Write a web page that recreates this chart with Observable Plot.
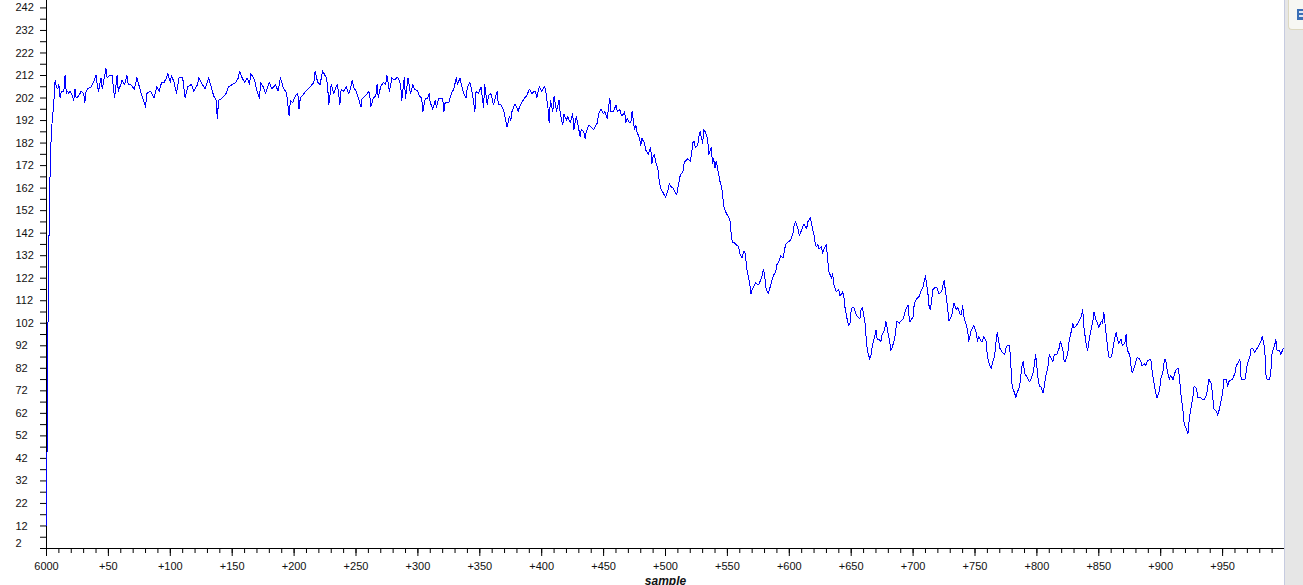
<!DOCTYPE html>
<html>
<head>
<meta charset="utf-8">
<script src="https://cdn.jsdelivr.net/npm/d3@7"></script>
<script src="https://cdn.jsdelivr.net/npm/@observablehq/plot@0.6"></script>
<style>
  html, body { margin: 0; padding: 0; background: #fff; overflow: hidden; }
  #wrap { position: relative; width: 1303px; height: 585px; }
  #side { position: absolute; left: 1284px; top: 0; width: 19px; height: 585px; background: #e6e6e6; border-left: 1px solid #c6cbe0; box-sizing: border-box; }
  #iconbox { position: absolute; left: 1288px; top: 0; width: 15px; height: 30px; background: #f7f7f3; border-left: 1px solid #ddd8c0; border-bottom: 1px solid #ddd8c0; border-bottom-left-radius: 4px; box-sizing: border-box; }
  #icon { position: absolute; left: 1297px; top: 9px; width: 6px; height: 11px; background: #3b6fb6; }
  #icon2 { position: absolute; left: 1299px; top: 11px; width: 4px; height: 2px; background: #dfe8f5; }
  #icon3 { position: absolute; left: 1299px; top: 15px; width: 4px; height: 2px; background: #dfe8f5; }
</style>
</head>
<body>
<div id="wrap"><div id="chart"></div><div id="side"></div><div id="iconbox"></div><div id="icon"></div><div id="icon2"></div><div id="icon3"></div></div>
<script>
// sample offsets (relative to sample 6000) and the measured values
const sampleOffset = [
0,1,2,3,4,5,6,7,8,9,10,11,12,14,15,16,17,18,19,21,22,23,24,26,28,30,31,32,33,36,38,40,41,42,44,45,46,48,49,51,53,54,55,57,58,60,61,63,65,66,68,71,73,75,77,80,81,84,87,89,91,93,95,97,98,100,101,103,105,107,110,112,114,117,119,122,123,126,128,131,133,135,137,138,139,142,145,147,150,153,155,156,158,160,162,164,165,168,170,172,173,175,177,180,182,185,187,189,191,194,196,197,199,201,203,204,205,208,211,213,216,217,219,221,223,226,227,228,230,232,234,235,237,
238,240,242,244,245,247,248,250,252,254,255,256,259,260,261,262,264,266,267,268,269,270,272,274,275,277,278,279,281,283,284,286,287,289,290,292,294,296,297,300,301,303,304,306,308,309,310,312,314,315,317,320,321,322,325,327,329,331,332,334,335,337,339,340,342,344,346,347,349,351,353,354,356,357,359,361,364,365,367,369,371,372,374,375,376,378,379,381,382,384,386,388,390,392,394,395,396,398,400,402,403,405,406,407,409,410,412,414,415,417,418,420,421,423,425,426,428,429,431,432,434,435,436,438,440,442,444,445,446,448,450,451,453,454,455,456,458,460,461,463,464,465,467,468,469,471,472,473,475,476,477,479,480,481,483,484,486,488,
489,490,491,492,494,495,496,498,499,500,502,503,504,506,508,509,510,512,514,515,516,518,520,521,522,523,524,526,527,528,530,531,532,534,535,537,538,539,540,541,542,544,545,546,547,549,550,552,553,554,555,557,559,560,562,563,564,565,566,568,569,570,572,573,575,576,578,579,580,581,583,584,586,587,589,590,592,593,595,596,597,599,601,603,604,605,607,608,609,611,612,614,615,617,618,620,621,622,623,624,626,627,628,630,631,632,634,635,636,638,640,641,643,644,645,647,648,649,650,651,652,654,655,657,658,659,661,662,663,665,666,667,669,670,671,672,674,675,677,678,679,681,682,683,685,686,687,689,
690,692,694,696,697,698,700,701,703,705,706,708,709,710,712,713,714,716,718,719,721,723,725,726,727,728,729,731,732,733,735,736,738,739,740,741,743,744,745,747,748,749,751,752,753,755,756,757,759,760,762,763,764,766,767,768,770,771,772,774,775,776,778,779,780,782,783,784,786,788,789,790,791,792,794,795,797,798,799,801,802,803,805,806,807,809,810,811,813,814,816,818,819,821,822,823,825,826,828,829,830,832,833,834,836,837,838,840,841,842,844,845,846,848,849,850,852,853,854,856,857,858,860,861,862,864,865,866,868,869,871,872,873,875,876,877,879,880,881,883,884,885,887,888,889,891,892,893,895,896,897,899,900,902,903,904,905,906,907,908,910,911,912,914,915,916,918,919,920,922,923,924,926,927,929,930,931,932,934,935,937,938,939,941,942,943,945,946,947,949,950,951,953,954,955,957,958,960,961,962,964,965,966,968,969,970,972,973,974,976,977,978,980,981,982,984,985,986,988,989,990,992,993,994,996,997,999
];
const sampleValue = [
12,92,140,172,188,194,201,210,207,206,208,202,205,205,212,204,205,204,205,203,201,206,202,203,205,204,200,205,206,207,209,212,208,205,211,206,209,215,211,212,212,207,202,212,205,208,210,208,212,208,208,206,211,207,203,198,204,205,202,207,205,209,209,211,213,209,212,209,204,211,211,202,207,208,205,208,211,208,206,211,207,203,201,193,201,202,204,207,208,209,211,214,211,209,211,208,213,210,205,202,209,207,204,209,206,208,205,211,207,204,194,201,200,203,204,197,202,204,206,207,209,214,209,208,214,211,208,199,208,204,207,208,199,
206,205,207,204,205,210,207,205,202,198,202,202,204,205,204,198,202,203,208,202,205,207,209,208,212,205,208,211,210,211,211,208,201,211,202,211,204,208,206,205,203,202,196,202,202,204,200,197,201,198,202,202,196,200,200,204,206,211,208,211,208,204,202,207,209,204,196,205,204,207,198,208,199,203,204,199,205,199,199,197,192,189,194,192,196,199,199,196,198,200,202,203,206,204,205,205,202,207,205,207,206,198,191,201,196,203,196,201,195,190,195,192,194,191,195,188,194,191,185,188,187,184,187,190,189,188,190,191,195,197,195,196,193,198,202,196,196,199,196,197,195,194,196,191,193,191,191,196,188,190,187,184,181,184,182,179,177,180,
173,176,177,174,170,165,162,160,159,158,161,164,163,162,160,159,162,168,169,173,174,175,174,177,182,183,180,181,185,187,182,188,187,184,177,180,173,175,171,174,171,165,163,160,154,151,150,148,142,138,138,137,136,133,131,134,134,130,125,120,115,117,119,120,119,120,123,126,124,118,115,117,121,123,125,128,130,132,131,134,137,138,139,142,146,147,144,141,142,145,146,144,147,149,146,141,137,136,137,135,136,133,135,137,130,125,122,124,119,116,117,114,116,114,109,103,101,102,108,109,109,106,105,104,108,109,103,96,90,86,88,92,96,99,95,95,94,97,99,103,100,94,90,91,95,99,103,102,
103,104,108,110,103,103,105,111,113,114,116,118,121,123,115,109,108,117,118,118,115,116,121,117,113,108,103,105,108,111,108,109,106,106,110,105,101,99,94,99,100,101,98,94,96,94,94,96,94,87,83,82,84,88,94,98,91,90,89,88,91,92,92,83,74,71,69,71,74,83,85,80,79,78,76,77,80,84,88,77,74,74,71,74,78,83,88,87,85,88,88,91,94,90,85,85,89,94,99,102,100,101,102,103,105,108,100,92,90,94,100,102,107,103,102,100,103,102,107,97,92,87,87,89,93,98,95,93,95,92,93,97,90,88,83,80,83,85,87,86,85,83,84,83,85,86,86,81,74,71,69,72,77,81,86,86,82,79,77,79,77,79,81,82,79,72,63,57,56,53,59,63,69,74,73,69,69,69,68,68,70,74,77,75,69,64,63,61,63,68,71,77,77,74,76,77,77,80,83,84,86,77,77,77,80,84,87,91,91,89,90,91,93,94,96,91,79,77,77,81,89,92,95,90,90,88,91
];
// axis ticks and labels
const xMinorTicks = d3.range(0, 1000, 10);
const xMajorTicks = d3.range(0, 1000, 50);
const xTickLabels = ["6000","+50","+100","+150","+200","+250","+300","+350","+400","+450","+500","+550","+600","+650","+700","+750","+800","+850","+900","+950"];
const yTicks = d3.range(2, 245, 5);
const yLabelValues = [2,12,22,32,42,52,62,72,82,92,102,112,122,132,142,152,162,172,182,192,202,212,222,232,242];
const yTickLabels = yLabelValues.map(String);
const xAxisTitle = "sample";

const data = sampleOffset.map((s, i) => ({s, v: sampleValue[i]}));
const font = "'Liberation Sans', Arial, sans-serif";

const chart = Plot.plot({
  width: 1284,
  height: 585,
  marginLeft: 46,
  marginRight: 0,
  marginTop: 0,
  marginBottom: 37,
  style: {fontFamily: font, fontSize: "11px", color: "#111", background: "transparent", overflow: "visible"},
  x: {domain: [0, 1000], axis: null},
  y: {domain: [2, 245.3], axis: null},
  marks: [
    // y ticks
    Plot.ruleY(yTicks, {y: d => d, x1: 0, x2: 0, insetLeft: -6, stroke: "#000"}),
    // x minor ticks
    Plot.ruleX(xMinorTicks, {x: d => d, y1: 2, y2: 2, insetBottom: -5, stroke: "#000"}),
    // x major ticks
    Plot.ruleX(xMajorTicks, {x: d => d, y1: 2, y2: 2, insetBottom: -8, stroke: "#000"}),
    // axis lines
    Plot.ruleX([0], {stroke: "#000"}),
    Plot.ruleY([2], {stroke: "#000"}),
    // series
    Plot.line(data, {x: "s", y: "v", stroke: "#0000ff", strokeWidth: 1, shapeRendering: "crispEdges"}),
    // y labels (the lowest one is lifted above the x axis, as in the original)
    Plot.text(yLabelValues.filter(d => d !== 2), {y: d => d, text: d => yTickLabels[yLabelValues.indexOf(d)], frameAnchor: "left", dx: -31, textAnchor: "start", fill: "#111"}),
    Plot.text(yLabelValues.filter(d => d === 2), {y: d => d, text: d => yTickLabels[yLabelValues.indexOf(d)], frameAnchor: "left", dx: -31, dy: -5, textAnchor: "start", fill: "#111"}),
    // x labels
    Plot.text(xMajorTicks, {x: d => d, text: (d, i) => xTickLabels[i], frameAnchor: "bottom", dy: 21, fill: "#111"}),
    // x axis title
    Plot.text([xAxisTitle], {text: d => d, frameAnchor: "bottom", dy: 36, fontWeight: "bold", fontStyle: "italic", fontSize: 12, fill: "#111"})
  ]
});
document.getElementById("chart").appendChild(chart);
</script>
</body>
</html>
